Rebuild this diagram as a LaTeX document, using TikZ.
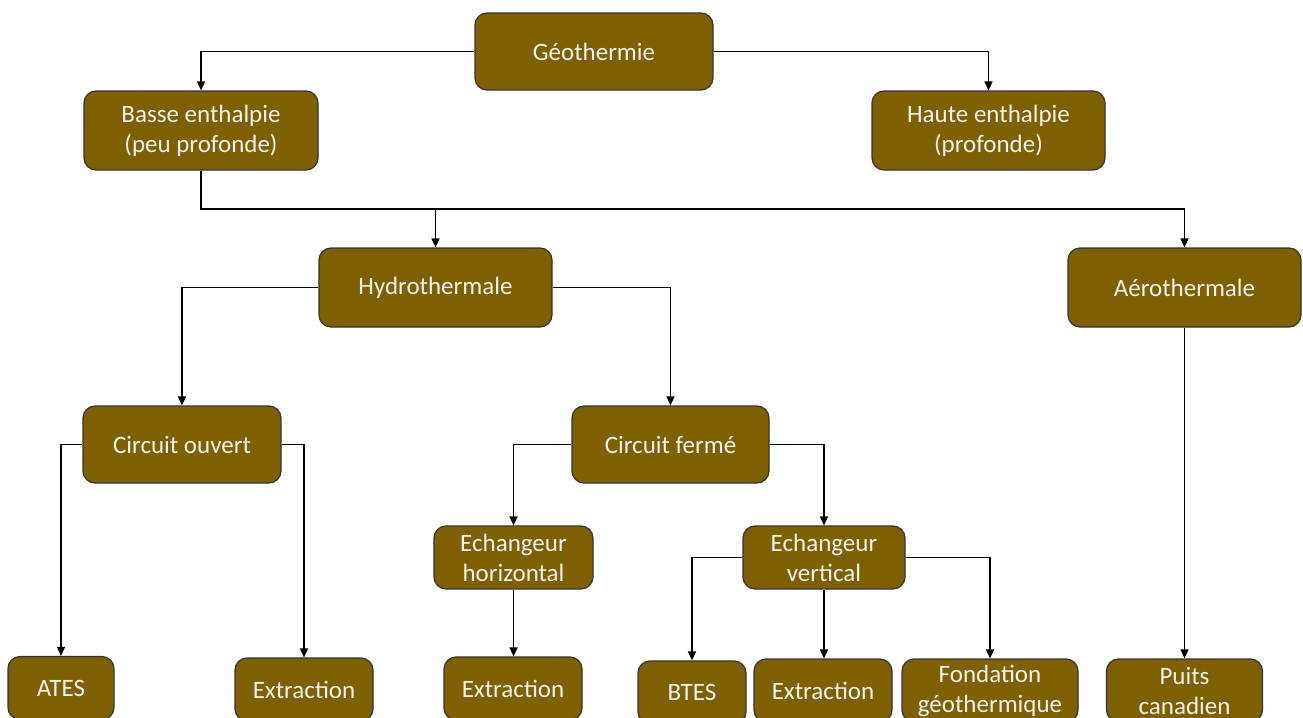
\documentclass[tikz,border=0pt]{standalone}
\usepackage{fontspec}
\setmainfont{Carlito}
\usetikzlibrary{arrows.meta}
\definecolor{geobrown}{RGB}{127,96,0}
\definecolor{geotext}{RGB}{242,242,242}
\tikzset{
  geobox/.style={draw=black!80, line width=0.6pt, fill=geobrown, rectangle, rounded corners=6pt,
    text=geotext, align=center, inner sep=2pt, font=\fontsize{12.5}{15}\selectfont},
  link/.style={line width=0.75pt, -{Triangle[length=4.5pt,width=4pt]}}
}
\begin{document}
\begin{tikzpicture}[x=0.5pt,y=-0.5pt]
\useasboundingbox (0,0) rectangle (1303,718);
% niveaux superieurs
\node[geobox, minimum width=119pt, minimum height=38.5pt] (geo) at (594,51.5) {Géothermie};
\node[geobox, minimum width=117pt, minimum height=39.5pt] (basse) at (201,130.5) {Basse enthalpie\\(peu profonde)};
\node[geobox, minimum width=116.5pt, minimum height=39.5pt] (haute) at (988.5,130.5) {Haute enthalpie\\(profonde)};
\node[geobox, minimum width=116.5pt, minimum height=39.5pt] (hydro) at (435.5,287.5) {Hydrothermale};
\node[geobox, minimum width=116.5pt, minimum height=39.5pt] (aero) at (1184.5,287.5) {Aérothermale};
\node[geobox, minimum width=99pt, minimum height=38.5pt] (ouvert) at (182,444.5) {Circuit ouvert};
\node[geobox, minimum width=98.5pt, minimum height=38.5pt] (ferme) at (670.5,444.5) {Circuit fermé};
\node[geobox, minimum width=79.5pt, minimum height=31.5pt] (echh) at (513.5,557.5) {Echangeur\\horizontal};
\node[geobox, minimum width=81pt, minimum height=31.5pt] (echv) at (824,557.5) {Echangeur\\vertical};
% feuilles
\node[geobox, minimum width=53pt, minimum height=31.5pt] (ates) at (61,688) {ATES};
\node[geobox, minimum width=69pt, minimum height=31.5pt] (extA) at (304,689.5) {Extraction};
\node[geobox, minimum width=69pt, minimum height=31.5pt] (extB) at (513,688.5) {Extraction};
\node[geobox, minimum width=54pt, minimum height=31.5pt] (btes) at (692,692.5) {BTES};
\node[geobox, minimum width=69pt, minimum height=31.5pt] (extC) at (823,690.5) {Extraction};
\node[geobox, minimum width=88pt, minimum height=31.5pt] (fond) at (990,690.5) {Fondation\\géothermique};
\node[geobox, minimum width=78pt, minimum height=31.5pt] (puits) at (1184.5,690.5) {Puits\\canadien};
% liaisons
\coordinate (bus) at (0,209);
\draw[link] (geo.west) -| (basse.north);
\draw[link] (geo.east) -| (haute.north);
\draw[link] (basse.south) |- (aero.north |- bus) -- (aero.north);
\draw[link] (hydro.north |- bus) -- (hydro.north);
\draw[link] (hydro.west) -| (ouvert.north);
\draw[link] (hydro.east) -| (ferme.north);
\draw[link] (ouvert.west) -| (ates.north);
\draw[link] (ouvert.east) -| (extA.north);
\draw[link] (ferme.west) -| (echh.north);
\draw[link] (ferme.east) -| (echv.north);
\draw[link] (echh.south) -- (echh.south |- extB.north);
\draw[link] (echv.west) -| (btes.north);
\draw[link] (echv.south) -- (echv.south |- extC.north);
\draw[link] (echv.east) -| (fond.north);
\draw[link] (aero.south) -- (aero.south |- puits.north);
\end{tikzpicture}
\end{document}
